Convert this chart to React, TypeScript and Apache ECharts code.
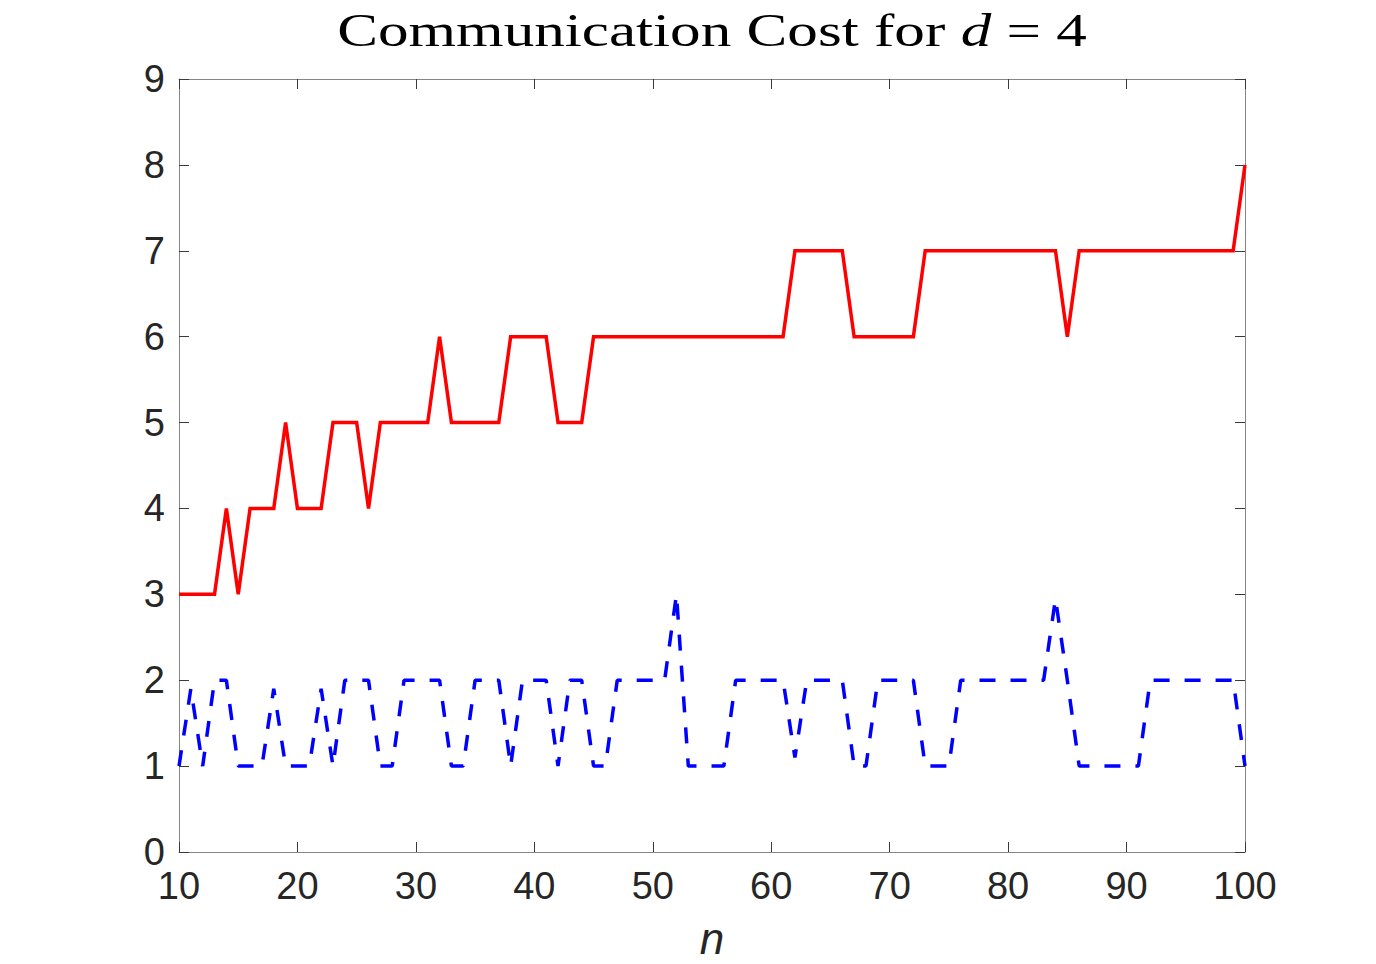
import React, { useEffect, useRef } from "react";
import * as echarts from "echarts";

const nValues: number[] = [];
for (let n = 10; n <= 100; n++) nValues.push(n);

const redCost = [
  3, 3, 3, 3, 4, 3, 4, 4, 4, 5, // 10-19
  4, 4, 4, 5, 5, 5, 4, 5, 5, 5, // 20-29
  5, 5, 6, 5, 5, 5, 5, 5, 6, 6, // 30-39
  6, 6, 5, 5, 5, 6, 6, 6, 6, 6, // 40-49
  6, 6, 6, 6, 6, 6, 6, 6, 6, 6, // 50-59
  6, 6, 7, 7, 7, 7, 7, 6, 6, 6, // 60-69
  6, 6, 6, 7, 7, 7, 7, 7, 7, 7, // 70-79
  7, 7, 7, 7, 7, 6, 7, 7, 7, 7, // 80-89
  7, 7, 7, 7, 7, 7, 7, 7, 7, 7, // 90-99
  8, // 100
];

const blueCost = [
  1, 1.9, 1, 2, 2, 1, 1, 1, 1.9, 1, // 10-19
  1, 1, 1.9, 1, 2, 2, 2, 1, 1, 2, // 20-29
  2, 2, 2, 1, 1, 2, 2, 2, 1, 2, // 30-39
  2, 2, 1, 2, 2, 1, 1, 2, 2, 2, // 40-49
  2, 2, 3, 1, 1, 1, 1, 2, 2, 2, // 50-59
  2, 2, 1.1, 2, 2, 2, 2, 1, 1, 2, // 60-69
  2, 2, 2, 1, 1, 1, 2, 2, 2, 2, // 70-79
  2, 2, 2, 2, 2.95, 2, 1, 1, 1, 1, // 80-89
  1, 1, 2, 2, 2, 2, 2, 2, 2, 2, // 90-99
  1, // 100
];

const xTicks = { min: 10, max: 100, interval: 10 };
const yTicks = { min: 0, max: 9, interval: 1 };

export default function App() {
  const ref = useRef<HTMLDivElement>(null);
  useEffect(() => {
    if (!ref.current) return;
    document.documentElement.style.overflow = "hidden";
    document.body.style.overflow = "hidden";
    document.body.style.margin = "0";
    const chart = echarts.init(ref.current, undefined, { renderer: "svg" });
    const axisLineStyle = { color: "#868686", width: 1 };
    const tickStyle = { color: "#3a3a3a", width: 1 };
    const labelFont = {
      fontFamily: "Liberation Sans, Arial, sans-serif",
      fontSize: 38,
      color: "#262626",
    };
    const serif = "Liberation Serif, Times New Roman, serif";
    chart.setOption({
      animation: false,
      backgroundColor: "#ffffff",
      grid: {
        left: 179,
        right: 131,
        top: 79,
        bottom: 112,
        containLabel: false,
        outerBoundsMode: "none",
      },
      graphic: [
        {
          type: "text",
          x: 712,
          y: 8,
          scaleX: 1.33,
          style: {
            text: "{a|Communication Cost for }{b|d}{a| = 4}",
            textAlign: "center",
            textVerticalAlign: "top",
            rich: {
              a: { fontFamily: serif, fontSize: 46, fill: "#000000" },
              b: { fontFamily: serif, fontSize: 46, fontStyle: "italic", fill: "#000000" },
            },
          },
        },
      ],
      xAxis: [
        {
          type: "value",
          ...xTicks,
          position: "bottom",
          name: "n",
          nameLocation: "middle",
          nameGap: 64,
          nameTextStyle: {
            fontFamily: "Liberation Sans, Arial, sans-serif",
            fontStyle: "italic",
            fontSize: 44,
            lineHeight: 44,
            color: "#262626",
          },
          axisLine: { show: true, onZero: false, lineStyle: axisLineStyle },
          axisTick: { show: true, inside: true, length: 10, lineStyle: tickStyle },
          axisLabel: { ...labelFont, margin: 15 },
          splitLine: { show: false },
        },
        {
          type: "value",
          ...xTicks,
          position: "top",
          axisLine: { show: true, onZero: false, lineStyle: axisLineStyle },
          axisTick: { show: true, inside: true, length: 10, lineStyle: tickStyle },
          axisLabel: { show: false },
          splitLine: { show: false },
        },
      ],
      yAxis: [
        {
          type: "value",
          ...yTicks,
          position: "left",
          axisLine: { show: true, onZero: false, lineStyle: axisLineStyle },
          axisTick: { show: true, inside: true, length: 10, lineStyle: tickStyle },
          axisLabel: { ...labelFont, margin: 14 },
          splitLine: { show: false },
        },
        {
          type: "value",
          ...yTicks,
          position: "right",
          axisLine: { show: true, onZero: false, lineStyle: axisLineStyle },
          axisTick: { show: true, inside: true, length: 10, lineStyle: tickStyle },
          axisLabel: { show: false },
          splitLine: { show: false },
        },
      ],
      series: [
        {
          type: "line",
          xAxisIndex: 0,
          yAxisIndex: 0,
          data: nValues.map((n, i) => [n, redCost[i]]),
          showSymbol: false,
          symbol: "none",
          lineStyle: { color: "#ff0000", width: 3.5, join: "miter" },
        },
        {
          type: "line",
          xAxisIndex: 0,
          yAxisIndex: 0,
          data: nValues.map((n, i) => [n, blueCost[i]]),
          showSymbol: false,
          symbol: "none",
          lineStyle: { color: "#0000ff", width: 3.5, type: [16, 15], cap: "butt" },
        },
      ],
    });
    return () => chart.dispose();
  }, []);
  return (
    <div
      ref={ref}
      style={{
        position: "absolute",
        left: 0,
        top: 0,
        width: 1376,
        height: 964,
        overflow: "hidden",
      }}
    />
  );
}
